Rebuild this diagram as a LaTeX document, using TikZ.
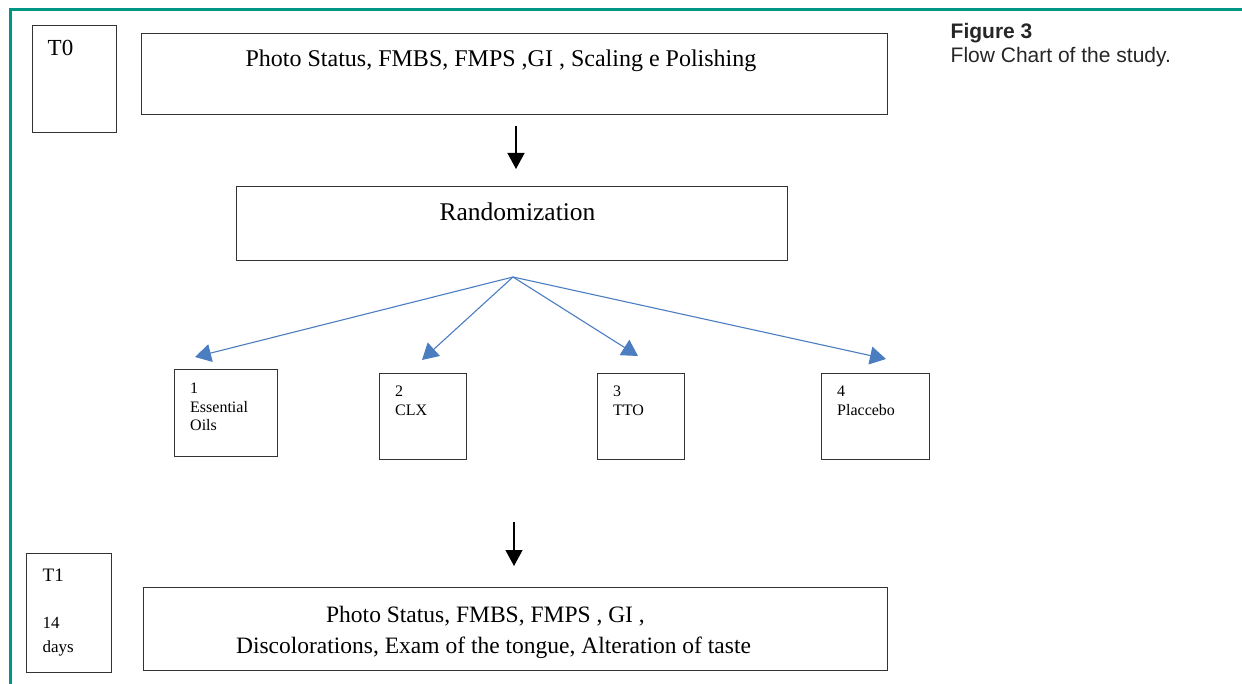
\documentclass[tikz,border=0pt]{standalone}
\usepackage{fontspec}
\setmainfont{Liberation Serif}
\newfontfamily\capfont{Liberation Sans}
\usetikzlibrary{arrows.meta}
\definecolor{frameteal}{RGB}{0,150,132}
\definecolor{arrowblue}{RGB}{74,126,193}
\tikzset{
  box/.style={draw=black!80, line width=1.2pt, inner sep=0pt, anchor=north west},
  txt/.style={inner sep=0pt, anchor=base west},
  bigtxt/.style={inner sep=0pt, anchor=base, font=\fontsize{24}{29}\selectfont},
  smalltxt/.style={inner sep=0pt, anchor=base west, font=\fontsize{16}{19}\selectfont},
  blackarrow/.style={draw=black, line width=1.3pt, -{Triangle[length=16pt,width=17pt]}},
  bluearrow/.style={draw=arrowblue, line width=1.1pt, -{Triangle[length=16pt,width=18pt]}},
}
\begin{document}
\begin{tikzpicture}[x=1pt,y=-1pt]
\useasboundingbox (0,0) rectangle (1242,684);
\fill[white] (0,0) rectangle (1242,684);
% frame
\draw[frameteal, line width=2.6pt] (10.5,684) -- (10.5,9.5) -- (1242,9.5);

% caption
\node[txt, font=\capfont\bfseries\fontsize{21}{25}\selectfont, text=black!85] (figlbl) at (950.5,39) {Figure 3};
\node[txt, font=\capfont\fontsize{21}{25}\selectfont, text=black!85] (figcap) at (950.5,63) {Flow Chart of the study.};

% T0
\node[box, minimum width=84pt, minimum height=107pt] (t0) at (32,25) {};
\node[txt, font=\fontsize{23}{27}\selectfont] (t0lbl) at (47.5,56) {T0};

% top box
\node[box, minimum width=746pt, minimum height=81pt] (top) at (141,33) {};
\node[bigtxt] (toptxt) at (501,67) {Photo Status, FMBS, FMPS ,GI , Scaling e Polishing};

% arrow 1
\coordinate (a1s) at (516,126);
\coordinate (a1e) at (516,169);
\draw[blackarrow] (a1s) -- (a1e);

% randomization
\node[box, minimum width=551pt, minimum height=74pt] (rand) at (236,186) {};
\node[bigtxt, font=\fontsize{25.5}{30}\selectfont] (randtxt) at (517.5,221) {Randomization};

% fan
\coordinate (fan) at (513,277);
\coordinate (g1tip) at (195,357);
\coordinate (g2tip) at (422,360);
\coordinate (g3tip) at (638,356);
\coordinate (g4tip) at (886,359);
\draw[bluearrow] (fan) -- (g1tip);
\draw[bluearrow] (fan) -- (g2tip);
\draw[bluearrow] (fan) -- (g3tip);
\draw[bluearrow] (fan) -- (g4tip);

% group boxes
\node[box, minimum width=103pt, minimum height=87pt] (g1) at (174,369) {};
\node[smalltxt] (g1a) at (190,393) {1};
\node[smalltxt] (g1b) at (190,412) {Essential};
\node[smalltxt] (g1c) at (190,430.5) {Oils};

\node[box, minimum width=87pt, minimum height=86pt] (g2) at (379,373) {};
\node[smalltxt] (g2a) at (395,396) {2};
\node[smalltxt] (g2b) at (395,415) {CLX};

\node[box, minimum width=87pt, minimum height=86pt] (g3) at (597,373) {};
\node[smalltxt] (g3a) at (613,396) {3};
\node[smalltxt] (g3b) at (613,415) {TTO};

\node[box, minimum width=108pt, minimum height=86pt] (g4) at (821,373) {};
\node[smalltxt] (g4a) at (837,396) {4};
\node[smalltxt] (g4b) at (837,415) {Placcebo};

% arrow 2
\coordinate (a2s) at (514,522);
\coordinate (a2e) at (514,566);
\draw[blackarrow] (a2s) -- (a2e);

% T1
\node[box, minimum width=85pt, minimum height=119pt] (t1) at (26,553) {};
\node[txt, font=\fontsize{19}{23}\selectfont] (t1lbl) at (42.5,581) {T1};
\node[txt, font=\fontsize{17}{20}\selectfont] (t1d) at (42.5,628) {14};
\node[txt, font=\fontsize{17}{20}\selectfont] (t1e) at (42.5,652) {days};

% bottom box
\node[box, minimum width=744pt, minimum height=83pt] (bot) at (143,587) {};
\node[bigtxt, font=\fontsize{23.5}{28}\selectfont] (bot1) at (485.5,622) {Photo Status, FMBS, FMPS , GI ,};
\node[bigtxt, font=\fontsize{23.5}{28}\selectfont] (bot2) at (493.5,653) {Discolorations, Exam of the tongue, Alteration of taste};
\end{tikzpicture}
\end{document}
